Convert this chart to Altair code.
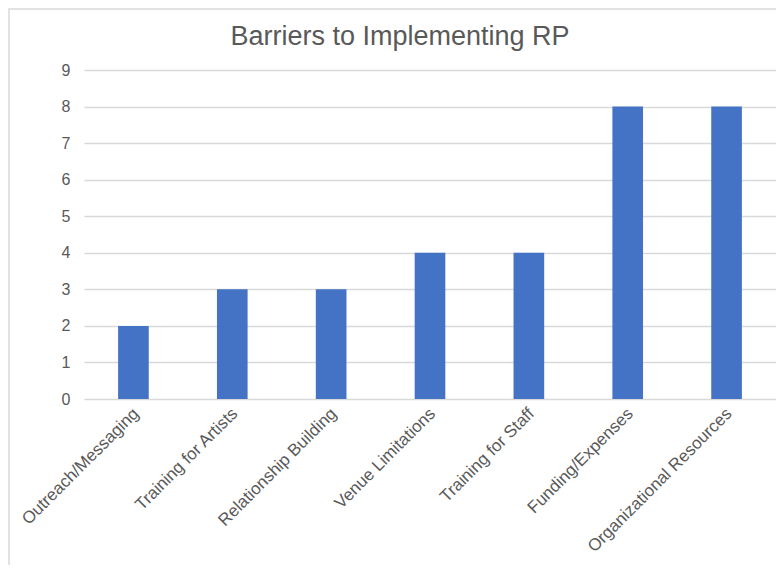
import altair as alt
import pandas as pd

categories = ["Outreach/Messaging", "Training for Artists", "Relationship Building",
              "Venue Limitations", "Training for Staff", "Funding/Expenses",
              "Organizational Resources"]
counts = [2, 3, 3, 4, 4, 8, 8]
y_ticks = [0, 1, 2, 3, 4, 5, 6, 7, 8, 9]
title_text = "Barriers to Implementing RP"

df = pd.DataFrame({"category": categories, "count": counts})

FONT = "Liberation Sans"
GREY = "#595959"

bars = alt.Chart(df).mark_bar(color="#4472C4").encode(
    x=alt.X("category:N", sort=categories, title=None,
            scale=alt.Scale(paddingInner=0.69, paddingOuter=0.345),
            axis=alt.Axis(labelAngle=-45, labelFontSize=17, labelColor=GREY,
                          labelFont=FONT, domain=False, ticks=False,
                          labelPadding=6, labelOffset=-3, labelLimit=300)),
    y=alt.Y("count:Q", title=None,
            scale=alt.Scale(domain=[0, 9], nice=False),
            axis=alt.Axis(values=y_ticks, labelFontSize=16, labelColor=GREY,
                          labelFont=FONT, domain=False, ticks=False,
                          labelPadding=14, gridColor="#d9d9d9", gridWidth=1.5)),
)

border = alt.Chart(pd.DataFrame({"a": [0]})).mark_rect(
    fill=None, stroke="#d9d9d9", strokeWidth=1.5, clip=False
).encode(x=alt.value(-75), x2=alt.value(720), y=alt.value(-61), y2=alt.value(600))

title = alt.Chart(pd.DataFrame({"t": [title_text]})).mark_text(
    font=FONT, fontSize=27, color=GREY, align="center", baseline="alphabetic"
).encode(text="t:N", x=alt.value(316), y=alt.value(-25))

chart = alt.layer(border, bars, title).properties(
    width=692, height=329,
    autosize=alt.AutoSizeParams(type="none"),
    padding={"left": 76, "top": 62, "right": 0, "bottom": 166},
).configure_view(stroke=None)

chart.save("out.html", embed_options={"renderer": "svg", "actions": False})
